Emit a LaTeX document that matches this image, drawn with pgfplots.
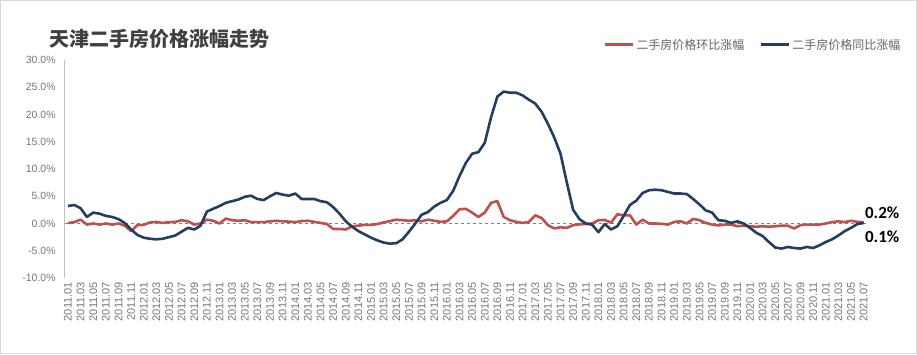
\documentclass[border=0pt]{standalone}
\usepackage{fontspec}
\setmainfont{Liberation Sans}
\newfontfamily\cjk{Noto Sans CJK SC}
\newfontfamily\calib{Carlito}
\usepackage{pgfplots}
\usepackage{pgfplotstable}
\pgfplotsset{compat=1.18}
\definecolor{momred}{RGB}{192,80,77}
\definecolor{yoyblue}{RGB}{36,62,96}
\definecolor{ticktext}{RGB}{118,118,118}
\definecolor{legendgray}{RGB}{100,100,100}
\definecolor{titlegray}{RGB}{64,64,64}
\definecolor{axisgray}{RGB}{191,191,191}
\definecolor{framegray}{RGB}{217,217,217}

\pgfplotstableread{
i yoy mom
0 3.2 0.1
1 3.4 0.25
2 2.8 0.7
3 1.2 -0.2
4 2.0 0.0
5 1.8 -0.2
6 1.4 0.0
7 1.2 -0.2
8 0.8 0.0
9 0.1 -0.4
10 -1.1 -1.4
11 -2.1 -0.3
12 -2.6 -0.25
13 -2.8 0.2
14 -2.9 0.3
15 -2.8 0.1
16 -2.5 0.25
17 -2.2 0.3
18 -1.5 0.6
19 -0.8 0.4
20 -1.1 -0.2
21 -0.4 0.0
22 2.2 0.7
23 2.7 0.5
24 3.2 0.0
25 3.8 0.9
26 4.1 0.6
27 4.4 0.5
28 4.9 0.6
29 5.1 0.25
30 4.5 0.25
31 4.3 0.25
32 5.0 0.4
33 5.6 0.5
34 5.3 0.4
35 5.1 0.35
36 5.5 0.25
37 4.5 0.45
38 4.5 0.5
39 4.5 0.3
40 4.1 0.1
41 3.9 -0.1
42 3.0 -1.0
43 1.8 -1.0
44 0.4 -1.1
45 -0.6 -0.5
46 -1.4 -0.4
47 -2.0 -0.25
48 -2.6 -0.25
49 -3.1 -0.1
50 -3.5 0.2
51 -3.7 0.45
52 -3.6 0.7
53 -2.9 0.6
54 -1.5 0.5
55 0.0 0.6
56 1.6 0.4
57 2.1 0.7
58 3.1 0.5
59 3.8 0.3
60 4.3 0.4
61 6.0 1.4
62 8.7 2.6
63 11.1 2.7
64 12.8 2.0
65 13.1 1.2
66 14.8 2.0
67 19.5 3.8
68 23.3 4.1
69 24.2 1.2
70 24.0 0.6
71 24.0 0.3
72 23.5 0.1
73 22.7 0.3
74 22.0 1.5
75 20.5 1.0
76 18.3 -0.3
77 15.8 -0.9
78 12.8 -0.7
79 7.5 -0.8
80 2.5 -0.3
81 0.8 -0.15
82 0.0 -0.1
83 -0.2 0.0
84 -1.6 0.6
85 -0.1 0.65
86 -1.1 0.15
87 -0.5 1.7
88 1.4 1.5
89 3.4 1.5
90 4.2 -0.2
91 5.6 0.7
92 6.1 0.0
93 6.2 0.0
94 6.1 -0.05
95 5.8 -0.2
96 5.5 0.3
97 5.5 0.4
98 5.4 0.0
99 4.5 0.85
100 3.5 0.6
101 2.4 0.1
102 2.0 -0.2
103 0.6 -0.35
104 0.5 -0.2
105 0.1 -0.2
106 0.4 -0.5
107 0.0 -0.4
108 -0.8 -0.5
109 -1.7 -0.6
110 -2.3 -0.5
111 -3.4 -0.6
112 -4.4 -0.5
113 -4.6 -0.4
114 -4.3 -0.4
115 -4.5 -0.9
116 -4.6 -0.3
117 -4.3 -0.2
118 -4.5 -0.2
119 -4.0 -0.2
120 -3.4 0.0
121 -2.9 0.25
122 -2.2 0.4
123 -1.4 0.25
124 -0.8 0.5
125 -0.1 0.3
126 0.1 0.2
}\datatable

\begin{document}
\begin{tikzpicture}[x=1pt,y=1pt]
\useasboundingbox (0,0) rectangle (917,354);
\draw[framegray, line width=1pt] (0.5,0.5) rectangle (916.5,353.5);
\node[anchor=west, font=\cjk\bfseries\fontsize{20}{24}\selectfont, text=titlegray, inner sep=0pt] at (49,315) {天津二手房价格涨幅走势};
\begin{axis}[
  at={(64.8pt,76pt)}, anchor=south west,
  width=802pt, height=218pt, scale only axis,
  xmin=-0.5, xmax=126.5, ymin=-10, ymax=30,
  clip=false,
  separate axis lines,
  axis x line*=bottom, axis y line*=left,
  x axis line style={draw=none},
  y axis line style={draw=axisgray, line width=0.8pt, -},
  major tick length=0pt,
  xtick={0,2,...,126},
  xticklabels={2011.01,2011.03,2011.05,2011.07,2011.09,2011.11,
    2012.01,2012.03,2012.05,2012.07,2012.09,2012.11,
    2013.01,2013.03,2013.05,2013.07,2013.09,2013.11,
    2014.01,2014.03,2014.05,2014.07,2014.09,2014.11,
    2015.01,2015.03,2015.05,2015.07,2015.09,2015.11,
    2016.01,2016.03,2016.05,2016.07,2016.09,2016.11,
    2017.01,2017.03,2017.05,2017.07,2017.09,2017.11,
    2018.01,2018.03,2018.05,2018.07,2018.09,2018.11,
    2019.01,2019.03,2019.05,2019.07,2019.09,2019.11,
    2020.01,2020.03,2020.05,2020.07,2020.09,2020.11,
    2021.01,2021.03,2021.05,2021.07},
  ytick={-10,-5,0,5,10,15,20,25,30},
  yticklabels={-10.0\%,-5.0\%,0.0\%,5.0\%,10.0\%,15.0\%,20.0\%,25.0\%,30.0\%},
  tick label style={text=ticktext},
  xticklabel style={rotate=90, anchor=east, inner sep=0pt, font=\fontsize{11}{12}\selectfont},
  yticklabel style={anchor=east, inner sep=0pt, font=\fontsize{10.5}{12}\selectfont},
  xticklabel shift=4pt,
  yticklabel shift=9pt,
  legend columns=2,
  legend cell align=left,
  legend style={at={(1.044,1.069)}, anchor=east, draw=none, fill=none,
    font=\cjk\fontsize{12}{14}\selectfont, text=legendgray, inner sep=0pt,
    nodes={inner sep=1.5pt},
    /tikz/every even column/.append style={column sep=14pt}},
  legend image code/.code={\draw[#1, line width=3pt] (0pt,0pt) -- (28pt,0pt);},
]
\addplot[gray, dashed, line width=0.7pt, forget plot] coordinates {(-0.5,0) (126.5,0)};
\addplot[momred, line width=2.6pt, line join=round] table[x=i, y=mom] {\datatable};
\addlegendentry{二手房价格环比涨幅}
\addplot[yoyblue, line width=2.6pt, line join=round] table[x=i, y=yoy] {\datatable};
\addlegendentry{二手房价格同比涨幅}
\node[anchor=west, font=\calib\bfseries\fontsize{17}{20}\selectfont, inner sep=0pt] at (axis cs:126.2,2.0) {0.2\%};
\node[anchor=west, font=\calib\bfseries\fontsize{17}{20}\selectfont, inner sep=0pt] at (axis cs:126.2,-2.4) {0.1\%};
\end{axis}
\end{tikzpicture}
\end{document}
